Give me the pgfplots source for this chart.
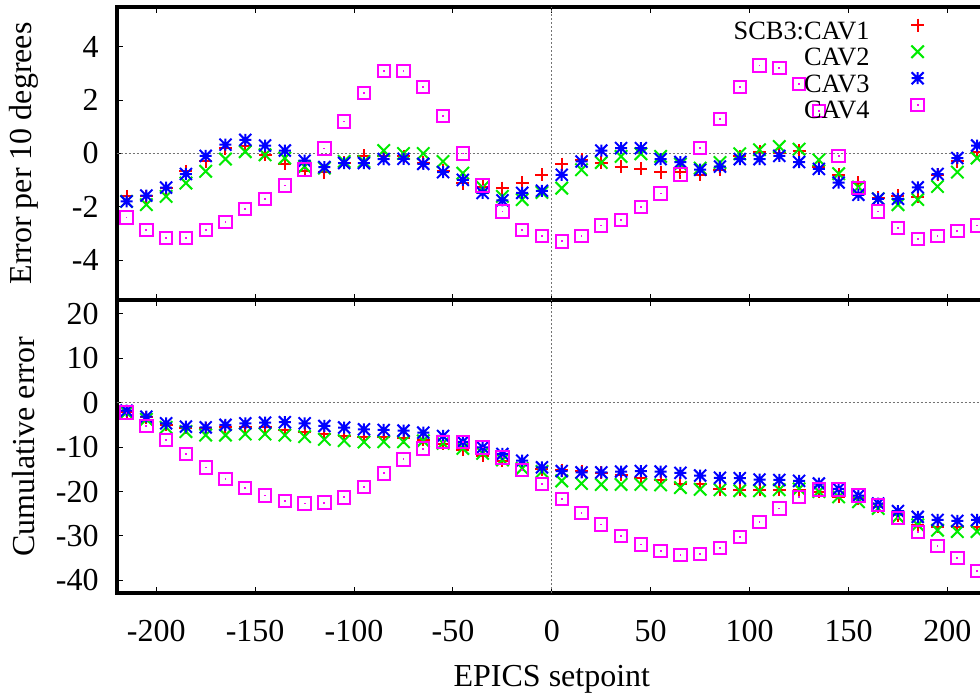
\documentclass[border=0pt]{standalone}
\usepackage{fontspec}
\setmainfont{Liberation Serif}
\usepackage{pgfplots}
\usepackage{pgfplotstable}
\pgfplotsset{compat=1.18}

\definecolor{gpred}{RGB}{255,0,0}
\definecolor{gpgreen}{RGB}{0,235,0}
\definecolor{gpblue}{RGB}{0,0,255}
\definecolor{gpmagenta}{RGB}{255,0,255}

% gnuplot point type 3: + and x together
\pgfdeclareplotmark{gpstar}{%
  \pgfpathmoveto{\pgfpoint{-\pgfplotmarksize}{0pt}}\pgfpathlineto{\pgfpoint{\pgfplotmarksize}{0pt}}%
  \pgfpathmoveto{\pgfpoint{0pt}{-\pgfplotmarksize}}\pgfpathlineto{\pgfpoint{0pt}{\pgfplotmarksize}}%
  \pgfpathmoveto{\pgfpoint{-\pgfplotmarksize}{-\pgfplotmarksize}}\pgfpathlineto{\pgfpoint{\pgfplotmarksize}{\pgfplotmarksize}}%
  \pgfpathmoveto{\pgfpoint{-\pgfplotmarksize}{\pgfplotmarksize}}\pgfpathlineto{\pgfpoint{\pgfplotmarksize}{-\pgfplotmarksize}}%
  \pgfusepathqstroke}
% gnuplot point type 2: x reaching the corners of the square
\pgfdeclareplotmark{gpx}{%
  \pgfpathmoveto{\pgfpoint{-\pgfplotmarksize}{-\pgfplotmarksize}}\pgfpathlineto{\pgfpoint{\pgfplotmarksize}{\pgfplotmarksize}}%
  \pgfpathmoveto{\pgfpoint{-\pgfplotmarksize}{\pgfplotmarksize}}\pgfpathlineto{\pgfpoint{\pgfplotmarksize}{-\pgfplotmarksize}}%
  \pgfusepathqstroke}
% open square with a dot in the middle
\pgfdeclareplotmark{sqdot}{%
  \pgfpathrectangle{\pgfpoint{-\pgfplotmarksize}{-\pgfplotmarksize}}{\pgfpoint{2\pgfplotmarksize}{2\pgfplotmarksize}}%
  \pgfusepathqstroke
  \pgfpathrectangle{\pgfpoint{-0.45pt}{-0.45pt}}{\pgfpoint{0.9pt}{0.9pt}}%
  \pgfusepathqfill}

\tikzset{zeroline/.style={black!55, line width=0.5pt, dash pattern=on 1pt off 1pt}}

% error per 10 degrees
\pgfplotstableread{
x a b c d
-215 -1.61 -1.80 -1.80 -2.40
-205 -1.61 -1.92 -1.58 -2.88
-195 -1.30 -1.61 -1.28 -3.18
-185 -0.67 -1.11 -0.77 -3.18
-175 -0.30 -0.67 -0.09 -2.88
-165 0.20 -0.21 0.33 -2.58
-155 0.30 0.07 0.51 -2.08
-145 -0.05 -0.05 0.30 -1.70
-135 -0.39 -0.17 0.11 -1.20
-125 -0.64 -0.49 -0.27 -0.60
-115 -0.71 -0.55 -0.51 0.19
-105 -0.34 -0.30 -0.36 1.20
-95 -0.09 -0.30 -0.36 2.28
-85 -0.09 0.11 -0.21 3.10
-75 -0.10 0.00 -0.20 3.10
-65 -0.35 0.00 -0.39 2.49
-55 -0.65 -0.30 -0.70 1.40
-45 -1.11 -0.74 -0.99 0.00
-35 -1.24 -1.27 -1.48 -1.20
-25 -1.30 -1.61 -1.76 -2.18
-15 -1.09 -1.73 -1.48 -2.88
-5 -0.80 -1.46 -1.40 -3.09
5 -0.40 -1.30 -0.80 -3.30
15 -0.24 -0.61 -0.30 -3.09
25 -0.34 -0.34 0.11 -2.70
35 -0.49 -0.11 0.20 -2.50
45 -0.58 -0.01 0.20 -2.00
55 -0.70 -0.11 -0.21 -1.50
65 -0.70 -0.40 -0.32 -0.79
75 -0.80 -0.55 -0.61 0.20
85 -0.61 -0.34 -0.49 1.30
95 -0.11 -0.01 -0.21 2.50
105 0.07 0.14 -0.21 3.30
115 0.00 0.26 -0.09 3.20
125 0.10 0.16 -0.32 2.60
135 -0.49 -0.24 -0.58 1.60
145 -0.80 -0.76 -1.09 -0.10
155 -1.09 -1.26 -1.55 -1.30
165 -1.67 -1.70 -1.70 -2.18
175 -1.58 -1.92 -1.70 -2.80
185 -1.63 -1.73 -1.27 -3.20
195 -0.80 -1.24 -0.77 -3.09
205 -0.30 -0.70 -0.17 -2.90
215 0.07 -0.17 0.30 -2.70
}\errtop

% cumulative error
\pgfplotstableread{
x a b c d
-215 -2.0 -2.2 -1.8 -2.25
-205 -3.3 -3.75 -3.15 -5.25
-195 -5.0 -5.55 -4.65 -8.4
-185 -5.6 -6.5 -5.4 -11.55
-175 -5.8 -7.3 -5.55 -14.6
-165 -5.4 -7.3 -5.0 -17.2
-155 -5.4 -7.05 -4.65 -19.2
-145 -5.55 -7.05 -4.5 -20.9
-135 -6.15 -7.3 -4.4 -22.1
-125 -6.5 -7.65 -4.65 -22.7
-115 -7.05 -8.25 -5.25 -22.5
-105 -7.5 -8.55 -5.6 -21.3
-95 -7.65 -8.85 -6.0 -19.0
-85 -7.65 -8.8 -6.15 -15.9
-75 -7.9 -8.8 -6.3 -12.75
-65 -8.4 -8.6 -6.75 -10.35
-55 -9.3 -9.15 -7.5 -8.85
-45 -10.65 -10.3 -8.8 -8.8
-35 -11.9 -11.4 -10.05 -10.1
-25 -13.05 -12.9 -11.55 -12.3
-15 -13.8 -14.8 -13.05 -15.2
-5 -15.0 -15.5 -14.55 -18.3
5 -15.2 -17.6 -15.4 -21.7
15 -15.4 -18.2 -15.7 -24.8
25 -15.8 -18.4 -15.7 -27.4
35 -16.2 -18.4 -15.5 -29.95
45 -16.9 -18.4 -15.4 -31.9
55 -17.4 -18.5 -15.5 -33.4
65 -18.2 -19.1 -15.8 -34.3
75 -18.3 -19.5 -16.4 -34.0
85 -19.5 -19.6 -16.9 -32.65
95 -19.6 -19.8 -17.0 -30.2
105 -19.6 -19.8 -17.3 -26.9
115 -19.6 -19.6 -17.4 -23.8
125 -19.6 -19.4 -17.6 -21.2
135 -20.0 -20.0 -18.2 -19.5
145 -21.2 -21.2 -19.4 -19.5
155 -21.5 -22.3 -20.9 -20.9
165 -23.4 -23.8 -22.7 -23.0
175 -25.3 -25.7 -24.4 -25.9
185 -27.5 -27.5 -25.7 -29.1
195 -27.9 -28.7 -26.4 -32.3
205 -27.9 -29.0 -26.6 -35.0
215 -27.9 -29.0 -26.4 -37.9
}\errcum

\pgfplotsset{
  gpaxis/.style={
    scale only axis,
    width=435.15pt,
    xmin=-220, xmax=220,
    axis line style={line width=2pt},
    tick style={line width=0.5pt, black},
    major tick length=3pt,
    tick align=inside,
    xtick={-200,-150,...,200},
    minor tick num=0,
    tick label style={font=\fontsize{16}{19}\selectfont},
    /pgf/number format/assume math mode=true,
    yticklabel style={xshift=-5.5pt},
    xticklabel style={yshift=-10pt},
    every axis y label/.style={at={(axis description cs:-0.1065,0.5)}, rotate=90, anchor=center,
        font=\fontsize{16}{19}\selectfont},
    every axis x label/.style={at={(axis description cs:0.5,-0.3184)}, anchor=base,
        font=\fontsize{16}{19}\selectfont},
    clip=false,
  },
  s1/.style={only marks, color=gpred, mark=+, mark size=3.25pt, line width=1pt},
  s2/.style={only marks, color=gpgreen, mark=gpx, mark size=3.1pt, line width=1pt},
  s3/.style={only marks, color=gpblue, mark=gpstar, mark size=3pt, line width=1pt},
  s4/.style={only marks, color=gpmagenta, mark=sqdot, mark size=3.1pt, line width=1pt},
}

\begin{document}
\begin{tikzpicture}
\begin{axis}[
    gpaxis,
    at={(58.35pt,200pt)}, anchor=south west,
    height=146.5pt,
    ymin=-5.5, ymax=5.5,
    ytick={-4,-2,0,2,4},
    xticklabel=\empty,
    ylabel={Error per 10 degrees},
    legend style={draw=none, fill=none, at={(axis description cs:0.9282,0.962)}, anchor=north east,
        inner sep=0pt, row sep=0pt, font=\fontsize{13.2}{15}\selectfont,
        nodes={inner xsep=2pt, inner ysep=0.75pt, text height=8.5pt, text depth=2.5pt}},
    legend cell align=right,
    legend plot pos=right,
    legend image code/.code={\path[draw=none, fill=none] (0pt,0pt) (25pt,0pt);
        \draw[mark repeat=2,mark phase=2,#1] plot coordinates {(0pt,4pt) (22pt,4pt) (25pt,4pt)};},
]
\draw[zeroline] (axis cs:-220,0) -- (axis cs:220,0);
\draw[zeroline] (axis cs:0,-5.5) -- (axis cs:0,5.5);
\addplot[s1] table[x=x, y=a] {\errtop};
\addplot[s2] table[x=x, y=b] {\errtop};
\addplot[s3] table[x=x, y=c] {\errtop};
\addplot[s4] table[x=x, y=d] {\errtop};
\legend{SCB3:CAV1, CAV2, CAV3, CAV4}
\end{axis}

\begin{axis}[
    gpaxis,
    at={(58.35pt,53.35pt)}, anchor=south west,
    height=146.65pt,
    ymin=-42.9, ymax=23.1,
    ytick={-40,-30,...,20},
    ylabel={Cumulative error},
    xlabel={EPICS setpoint},
]
\draw[zeroline] (axis cs:-220,0) -- (axis cs:220,0);
\draw[zeroline] (axis cs:0,-42.9) -- (axis cs:0,23.1);
\addplot[s1] table[x=x, y=a] {\errcum};
\addplot[s2] table[x=x, y=b] {\errcum};
\addplot[s3] table[x=x, y=c] {\errcum};
\addplot[s4] table[x=x, y=d] {\errcum};
\end{axis}

\pgfresetboundingbox
\useasboundingbox (0,0) rectangle (490pt,350pt);
\end{tikzpicture}
\end{document}
